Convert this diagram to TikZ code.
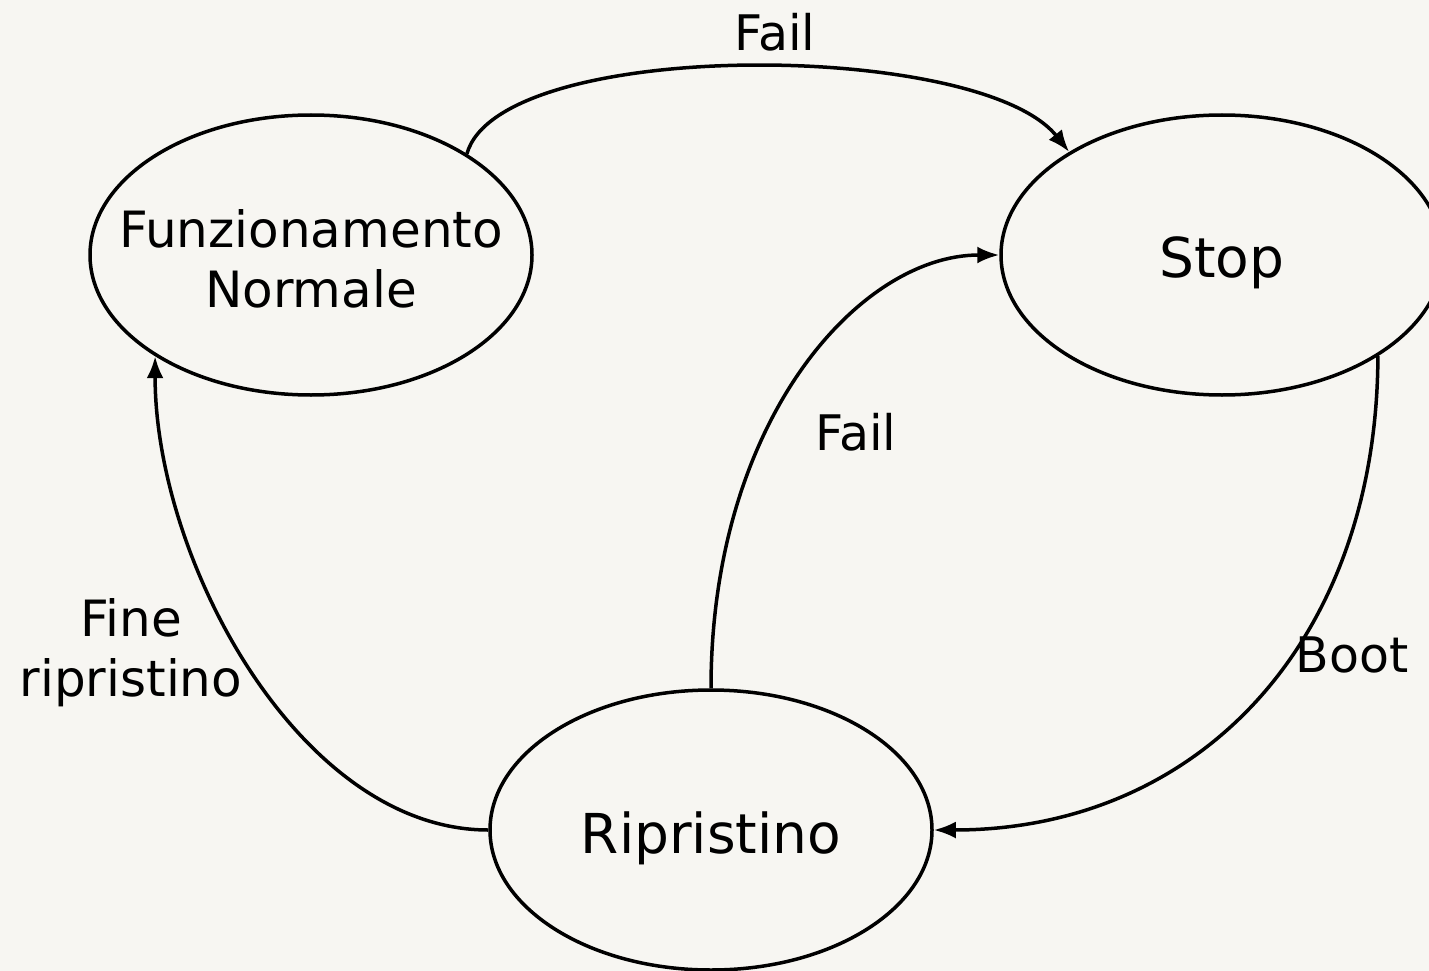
\documentclass[tikz,border=0pt]{standalone}
\usepackage{fontspec}
\setmainfont{DejaVu Sans}
\usetikzlibrary{shapes.geometric,arrows.meta}
\definecolor{paper}{RGB}{247,246,242}
\tikzset{
  state/.style={ellipse, draw, line width=3.5pt, minimum width=442pt, minimum height=280pt, inner sep=0pt},
  statetext/.style={align=center, inner sep=0pt, font=#1},
  trans/.style={line width=3.5pt, -{Latex[length=22pt,width=17pt]}},
  lbl/.style={font=\fontsize{49}{60}\selectfont, align=center, inner sep=0pt}
}
\begin{document}
\begin{tikzpicture}[x=1pt,y=-1pt]
  \fill[paper] (0,0) rectangle (1429,971);
  \useasboundingbox (0,0) rectangle (1429,971);
  \clip (0,0) rectangle (1429,971);
  % states: outlines of fixed size, text set on top
  \node[state] (fn) at (311,255) {};
  \node[state] (stop) at (1222,255) {};
  \node[state] (rip) at (711,830) {};
  \node[statetext=\fontsize{50}{60}\selectfont] (fnt) at (311,259) {Funzionamento\\Normale};
  \node[statetext=\fontsize{55}{66}\selectfont] (stopt) at (1222,263) {Stop};
  \node[statetext=\fontsize{55}{66}\selectfont] (ript) at (711,838) {Ripristino};
  % transitions
  \draw[trans] (fn.33) .. controls (500,37) and (980,40) .. (stop.146.5);
  \draw[trans] (rip.north) .. controls (711,420) and (860,255) .. (stop.west);
  \draw[trans] (stop.-33) .. controls (1377,640) and (1200,830) .. (rip.east);
  \draw[trans] (rip.west) .. controls (300,830) and (155,560) .. (fn.213.4);
  % labels
  \node[lbl] (l1) at (775,32) {Fail};
  \node[lbl] (l2) at (856,432) {Fail};
  \node[lbl] (l3) at (1352,655) {Boot};
  \node[lbl, font=\fontsize{50}{60}\selectfont] (l4) at (131,653) {Fine\\ripristino};
\end{tikzpicture}
\end{document}
